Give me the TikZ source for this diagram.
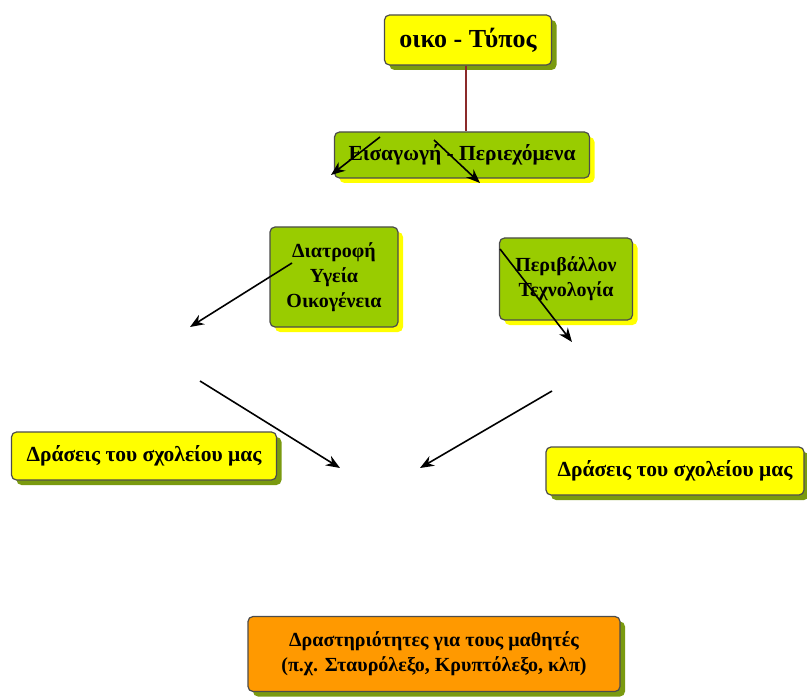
\documentclass[tikz,border=0pt]{standalone}
\usepackage{fontspec}
\setmainfont{Liberation Serif}
\usetikzlibrary{shadows,arrows.meta}
\definecolor{boxyellow}{HTML}{FFFF00}
\definecolor{boxgreen}{HTML}{99CC00}
\definecolor{boxorange}{HTML}{FF9900}
\definecolor{shadegreen}{HTML}{7A9A10}
\definecolor{linkred}{HTML}{8B2A2A}
\tikzset{
	mapbox/.style={draw=black!70,line width=1.2pt,rounded corners=5pt,align=center,
		font=\bfseries\fontsize{20}{25}\selectfont,inner sep=0pt},
	widetext/.style={font=\bfseries\fontsize{21.5}{25}\selectfont},
	yelbox/.style={mapbox,fill=boxyellow,
		drop shadow={shadow xshift=5pt,shadow yshift=-5pt,fill=shadegreen,opacity=1}},
	grnbox/.style={mapbox,fill=boxgreen,
		drop shadow={shadow xshift=5pt,shadow yshift=-5pt,fill=boxyellow,opacity=1}},
	orgbox/.style={mapbox,fill=boxorange,
		drop shadow={shadow xshift=5pt,shadow yshift=-5pt,fill=shadegreen,opacity=1}},
	arr/.style={-{Stealth[length=14pt,width=11pt]},line width=1.6pt,black}
}
\begin{document}
\begin{tikzpicture}[x=1pt,y=1pt]
		\useasboundingbox (0,0) rectangle (807,-698);
		% boxes
		\node[yelbox,minimum width=167pt,minimum height=50pt,font=\bfseries\fontsize{26}{30}\selectfont]
		(title) at (468,-40) {οικο - Τύπος};
		\node[grnbox,widetext,minimum width=255pt,minimum height=46pt] (intro) at (462,-155) {Εισαγωγή - Περιεχόμενα};
		\node[grnbox,minimum width=128pt,minimum height=100pt] (health) at (334,-277)
		{Διατροφή\\Υγεία\\Οικογένεια};
		\node[grnbox,minimum width=133pt,minimum height=82pt] (envir) at (566,-279)
		{Περιβάλλον\\Τεχνολογία};
		\node[yelbox,widetext,minimum width=265pt,minimum height=48pt] (actleft) at (144,-456) {Δράσεις του σχολείου μας};
		\node[yelbox,widetext,minimum width=258pt,minimum height=48pt] (actright) at (675,-471) {Δράσεις του σχολείου μας};
		\node[orgbox,minimum width=372pt,minimum height=75pt] (pupils) at (434,-654)
		{Δραστηριότητες για τους μαθητές\\(π.χ. Σταυρόλεξο, Κρυπτόλεξο, κλπ)};
		% link and arrows
		\draw[linkred,line width=2pt] ([xshift=-2pt]title.south) -- ([xshift=-2pt]title.south |- intro.north);
		\coordinate (a1s) at (380,-137); \coordinate (a1e) at (331,-175);
		\coordinate (a2s) at (434,-140); \coordinate (a2e) at (480,-183);
		\coordinate (a3s) at (292,-263); \coordinate (a3e) at (190,-327);
		\coordinate (a4s) at (500,-249); \coordinate (a4e) at (572,-342);
		\coordinate (a5s) at (200,-381); \coordinate (a5e) at (340,-468);
		\coordinate (a6s) at (552,-391); \coordinate (a6e) at (420,-468);
		\foreach \i in {1,...,6}
		\draw[arr] (a\i s) -- (a\i e);
	\end{tikzpicture}
\end{document}
